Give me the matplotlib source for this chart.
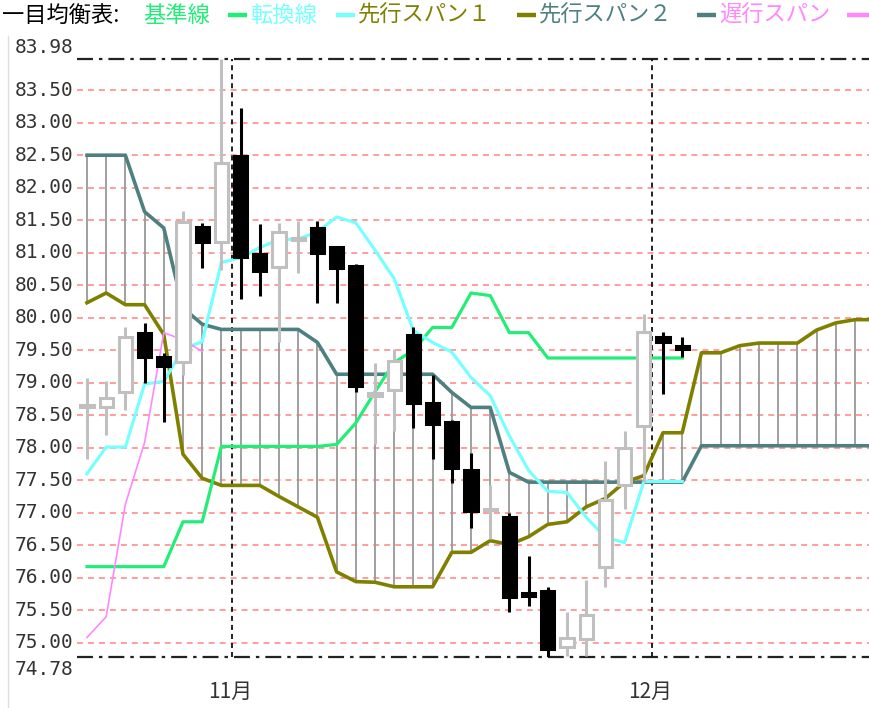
import matplotlib
matplotlib.use('Agg')
import numpy as np
from matplotlib import pyplot as plt
from matplotlib.lines import Line2D

plt.rcParams['lines.scale_dashes'] = False

# 日足 (始値, 高値, 安値, 終値)
opens = [78.62, 78.63, 78.85, 79.77, 79.40, 79.32, 81.40, 81.17, 82.49, 80.98,
         80.78, 81.20, 81.38, 81.09, 80.79, 78.80, 78.89, 79.74, 78.69, 78.39,
         77.65, 77.04, 76.94, 75.76, 75.80, 74.94, 75.06, 76.17, 77.43, 78.34,
         79.71, 79.56]
highs = [79.08, 79.02, 79.86, 79.92, 79.46, 81.64, 81.46, 83.98, 83.23, 81.44,
         81.46, 81.49, 81.49, 81.10, 80.83, 79.31, 79.52, 79.85, 79.12, 78.43,
         77.92, 77.43, 77.00, 76.33, 75.86, 75.48, 75.96, 77.80, 78.26, 80.05,
         79.78, 79.71]
lows = [77.82, 78.20, 78.58, 79.00, 78.39, 79.12, 80.77, 80.74, 80.29, 80.34,
        79.63, 80.69, 80.23, 80.23, 78.86, 78.05, 78.26, 78.31, 77.82, 77.45,
        76.77, 76.59, 75.48, 75.57, 74.78, 74.79, 74.79, 75.86, 77.05, 77.48,
        78.83, 79.40]
closes = [78.66, 78.77, 79.71, 79.40, 79.25, 81.47, 81.17, 82.38, 80.94, 80.72,
          81.32, 81.22, 81.00, 80.77, 78.95, 78.84, 79.34, 78.69, 78.37, 77.69,
          77.02, 77.06, 75.71, 75.72, 74.90, 75.08, 75.43, 77.20, 77.99, 79.78,
          79.62, 79.52]

# 基準線
kijun = [76.17, 76.17, 76.17, 76.17, 76.17, 76.86, 76.86, 78.02, 78.02, 78.02,
         78.02, 78.02, 78.02, 78.05, 78.38, 78.86, 79.31, 79.50, 79.85, 79.85,
         80.38, 80.34, 79.77, 79.77, 79.38, 79.38, 79.38, 79.38, 79.38, 79.38,
         79.38, 79.38]
# 転換線
tenkan = [77.60, 78.01, 78.01, 78.98, 79.02, 79.52, 79.63, 80.85, 80.92, 81.08,
          81.20, 81.21, 81.32, 81.55, 81.46, 81.04, 80.60, 79.80, 79.62, 79.47,
          79.08, 78.80, 78.18, 77.65, 77.33, 77.31, 76.93, 76.62, 76.54, 77.48,
          77.48, 77.48]
# 先行スパン1
span_a = [80.23, 80.38, 80.20, 80.20, 79.74, 77.90, 77.53, 77.42, 77.42, 77.42,
          77.25, 77.09, 76.93, 76.09, 75.94, 75.93, 75.86, 75.86, 75.86, 76.39,
          76.39, 76.57, 76.51, 76.63, 76.82, 76.86, 77.09, 77.22, 77.47, 77.57,
          78.23, 78.23, 79.46, 79.46, 79.57, 79.61, 79.61, 79.61, 79.81, 79.92,
          79.97, 79.97]
# 先行スパン2
span_b = [82.50, 82.50, 82.50, 81.63, 81.38, 80.15, 79.90, 79.82, 79.82, 79.82,
          79.82, 79.82, 79.62, 79.13, 79.13, 79.13, 79.13, 79.13, 79.13, 78.85,
          78.62, 78.62, 77.62, 77.47, 77.47, 77.47, 77.47, 77.47, 77.47, 77.47,
          77.47, 77.47, 78.03, 78.03, 78.03, 78.03, 78.03, 78.03, 78.03, 78.03,
          78.03, 78.03]
# 遅行スパン
chikou = [75.08, 75.40, 77.13, 78.08, 79.77, 79.66, 79.48]

grid_levels = [75.00, 75.50, 76.00, 76.50, 77.00, 77.50, 78.00, 78.50, 79.00,
               79.50, 80.00, 80.50, 81.00, 81.50, 82.00, 82.50, 83.00, 83.50]
y_min, y_max = 74.78, 83.98
month_pos = [7.55, 29.45]
month_labels = ['11月', '12月']

c_kijun = '#22ee77'
c_tenkan = '#77ffff'
c_a = '#808000'
c_b = '#4f8080'
c_chikou = '#ff88ff'
c_grey = '#c0c0c0'

W, H = 870, 708
fig = plt.figure(figsize=(W / 100, H / 100), dpi=100)
ax = fig.add_axes([77 / W, (H - 657) / H, (870 - 77) / W, (657 - 59) / H])
ax.set_xlim(-0.52, 40.78)
ax.set_ylim(y_min, y_max)
ax.axis('off')

# 目盛線
for v in grid_levels:
    ax.axhline(v, color='#ff8c8c', lw=1.2, ls=(0, (4.3, 3.6)), zorder=1)
for v in (y_min, y_max):
    ax.axhline(v, color='#222222', lw=1.6, ls=(0, (11.5, 4.3, 2.5, 4.3)), zorder=1, clip_on=False)
for p in month_pos:
    ax.axvline(p, color='#111111', lw=1.3, ls=(0, (3.6, 2.9)), zorder=1.5)

# 雲
xs = np.arange(len(span_a))
ax.vlines(xs, span_a, span_b, color='#999999', lw=1.3, zorder=2)
ax.plot(xs, span_b, color=c_b, lw=2.6, zorder=3)
ax.plot(xs, span_a, color=c_a, lw=2.6, zorder=3)

xk = np.arange(len(kijun))
ax.plot(xk, kijun, color=c_kijun, lw=2.3, zorder=3)
ax.plot(xk, tenkan, color=c_tenkan, lw=2.3, zorder=3)
ax.plot(np.arange(len(chikou)), chikou, color=c_chikou, lw=1.2, zorder=3)

# ローソク足
o = np.array(opens); c = np.array(closes)
xc = np.arange(len(o))
up = c >= o
edge = [c_grey if u else 'black' for u in up]
face = ['white' if u else 'black' for u in up]
ax.vlines(xc, lows, highs, colors=edge, lw=2.2, zorder=4)
ax.bar(xc, np.maximum(np.abs(c - o), 0.02), bottom=np.minimum(o, c), width=0.68,
       color=face, edgecolor=edge, linewidth=2.2, zorder=5)

# 価格ラベル
ytr = ax.get_yaxis_transform()
tick_font = dict(family='DejaVu Sans Mono', fontsize=14, color='#333333')
for v in grid_levels:
    ax.text(-0.005, v, '%.2f' % v, transform=ytr, ha='right', va='center', **tick_font)
ax.text(-0.005, y_max + 0.03, '%.2f' % y_max, transform=ytr, ha='right', va='bottom', **tick_font)
ax.text(-0.005, y_min - 0.04, '%.2f' % y_min, transform=ytr, ha='right', va='top', **tick_font)

xtr = ax.get_xaxis_transform()
for p, lab in zip(month_pos, month_labels):
    ax.text(p - 0.1, -0.058, lab, transform=xtr, ha='center', va='center',
            family=['Noto Sans CJK JP', 'DejaVu Sans'], fontsize=15, color='#333333')

# 凡例
leg_font = ['Noto Sans CJK JP', 'DejaVu Sans']
ly = 1 - 15 / H
fig.text(2 / W, ly, '一目均衡表:', color='black', family=leg_font, fontsize=16, va='center')
items = [('基準線', c_kijun, 143), ('転換線', c_tenkan, 250), ('先行スパン１', c_a, 358),
         ('先行スパン２', c_b, 539), ('遅行スパン', c_chikou, 719)]
for i, (lab, col, px) in enumerate(items):
    fig.text(px / W, ly, lab, color=col, family=leg_font, fontsize=16, va='center')
    if i + 1 < len(items):
        nx = items[i + 1][2]
        seg = (nx - 22, nx - 3)
    else:
        seg = (847, 870)
    fig.add_artist(Line2D([seg[0] / W, seg[1] / W], [ly, ly], color=col, lw=3.2,
                          solid_capstyle='butt', transform=fig.transFigure))

# 枠
fig.add_artist(Line2D([8 / W, 8 / W], [0, 1 - 36 / H], color='#dddddd', lw=1,
                      transform=fig.transFigure))

fig.savefig('out.png', dpi=100)
